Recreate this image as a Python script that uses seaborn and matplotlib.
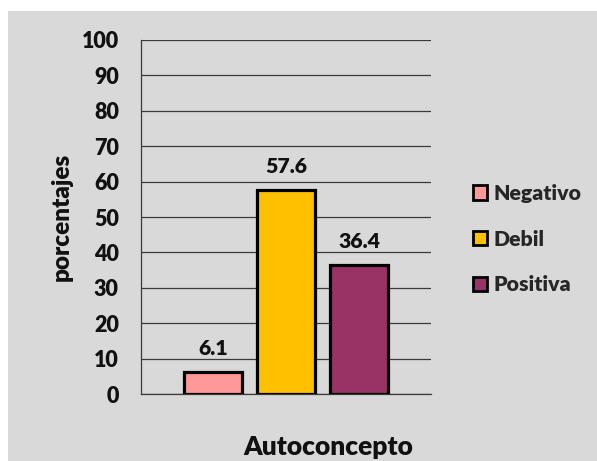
import matplotlib
matplotlib.use("Agg")
import matplotlib.pyplot as plt
from matplotlib.patches import Rectangle, Patch
import seaborn as sns
import pandas as pd

# Data
categoria = "Autoconcepto"
niveles = ["Negativo", "Debil", "Positiva"]
porcentajes = [6.1, 57.6, 36.4]
colores = ["#FF9999", "#FFC000", "#993366"]
yticks = list(range(0, 101, 10))

sns.set_style("white")
plt.rcParams["font.family"] = ["Lato", "DejaVu Sans"]
PESO = "heavy"
plt.rcParams["font.weight"] = PESO
TXT = "#111111"

gris = "#D9D9D9"
W, H = 597, 461
fig = plt.figure(figsize=(W / 100, H / 100), dpi=100)
fig.patch.set_facecolor("white")
fig.patches.append(Rectangle((8 / W, 0), 1 - 8 / W, 1 - 11 / H,
                             transform=fig.transFigure, facecolor=gris,
                             edgecolor="none", zorder=-10))

ax = fig.add_axes([141 / W, 1 - 394 / H, 290 / W, 354 / H])
ax.set_facecolor(gris)

df = pd.DataFrame({"grupo": [categoria] * len(niveles),
                   "nivel": niveles,
                   "valor": porcentajes})

sns.barplot(data=df, x="grupo", y="valor", hue="nivel", hue_order=niveles,
            palette=colores, saturation=1, width=0.755, gap=0.2, dodge=True,
            edgecolor="black", linewidth=2.3, legend=False, ax=ax, zorder=3)

for cont in ax.containers:
    ax.bar_label(cont, fmt="%.1f", padding=10.5, fontsize=15.3,
                 fontweight=PESO, color=TXT)

ax.set_ylim(0, 100)
ax.set_yticks(yticks)
ax.set_xlim(-0.5, 0.5)
ax.set_xticks([])
ax.grid(axis="y", color="#3a3a3a", linewidth=0.9, zorder=0)
ax.set_axisbelow(True)
for s in ["top", "right"]:
    ax.spines[s].set_visible(False)
for s in ["left", "bottom"]:
    ax.spines[s].set_color("#3a3a3a")
    ax.spines[s].set_linewidth(0.9)
ax.tick_params(axis="y", length=6, width=0.9, color="#3a3a3a", pad=10,
               labelsize=15.5, labelcolor=TXT)
for t in ax.get_yticklabels():
    t.set_fontweight(PESO)

ax.set_xlabel("")
ax.set_ylabel("porcentajes", fontsize=17.5, fontweight=PESO, color=TXT)
ax.yaxis.set_label_coords((73 - 141) / 290, 0.5)

fig.text(328 / W, 1 - 455 / H, categoria, ha="center", va="baseline",
         fontsize=19, fontweight=PESO, color=TXT)

handles = [Patch(facecolor=c, edgecolor="black", linewidth=2.0) for c in colores]
fig.legend(handles, niveles, loc="center left",
           bbox_to_anchor=(454 / W, 1 - 239 / H), frameon=False,
           handlelength=0.65, handleheight=0.65, handletextpad=0.3,
           labelspacing=1.25, prop={"weight": PESO, "size": 15.3})

fig.savefig("out.png", dpi=100, facecolor=fig.get_facecolor())
